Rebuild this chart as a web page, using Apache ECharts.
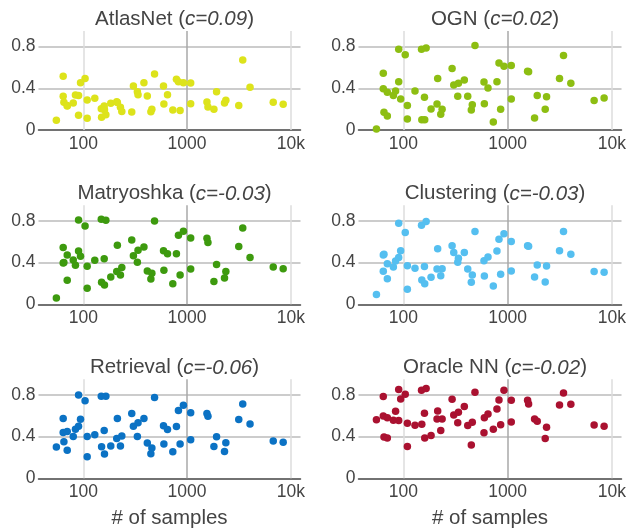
<!DOCTYPE html>
<html>
<head>
<meta charset="utf-8">
<script src="https://cdn.jsdelivr.net/npm/echarts@6/dist/echarts.min.js"></script>
<style>
html,body{margin:0;padding:0;background:#fff;}
#chart{width:629px;height:531px;}
</style>
</head>
<body>
<div id="chart"></div>
<script>
// ---- data ----
var samples = [55, 64, 64, 65, 70, 70, 80, 84, 90, 90, 94, 104, 109, 109, 129, 149, 150, 159, 160, 165, 184, 210, 213, 228, 235, 293, 304, 332, 337, 384, 414, 448, 458, 486, 593, 598, 648, 729, 790, 826, 857, 922, 1084, 1084, 1555, 1590, 1815, 1925, 2296, 2365, 3150, 3441, 4046, 6772, 8444];

var atlasnet = [0.093, 0.515, 0.323, 0.266, 0.23, 0.235, 0.259, 0.336, 0.33, 0.141, 0.454, 0.493, 0.288, 0.112, 0.304, 0.205, 0.122, 0.23, 0.195, 0.147, 0.256, 0.272, 0.265, 0.218, 0.178, 0.173, 0.422, 0.368, 0.339, 0.454, 0.326, 0.176, 0.2, 0.538, 0.422, 0.25, 0.339, 0.192, 0.486, 0.464, 0.186, 0.454, 0.451, 0.253, 0.269, 0.221, 0.2, 0.368, 0.259, 0.285, 0.234, 0.672, 0.41, 0.266, 0.246];
var ogn = [0.01, 0.544, 0.397, 0.17, 0.362, 0.134, 0.33, 0.374, 0.774, 0.464, 0.298, 0.723, 0.234, 0.106, 0.374, 0.774, 0.099, 0.314, 0.099, 0.787, 0.202, 0.25, 0.493, 0.15, 0.198, 0.589, 0.432, 0.323, 0.448, 0.48, 0.323, 0.192, 0.243, 0.81, 0.461, 0.253, 0.403, 0.077, 0.464, 0.643, 0.198, 0.611, 0.618, 0.298, 0.563, 0.56, 0.115, 0.33, 0.198, 0.32, 0.493, 0.714, 0.448, 0.282, 0.307];
var matryoshka = [0.061, 0.544, 0.397, 0.40, 0.474, 0.23, 0.426, 0.374, 0.81, 0.512, 0.461, 0.752, 0.365, 0.154, 0.422, 0.816, 0.211, 0.438, 0.186, 0.806, 0.262, 0.314, 0.566, 0.282, 0.352, 0.618, 0.467, 0.403, 0.518, 0.55, 0.32, 0.243, 0.298, 0.8, 0.515, 0.326, 0.486, 0.198, 0.486, 0.662, 0.282, 0.7, 0.637, 0.339, 0.634, 0.592, 0.218, 0.381, 0.253, 0.314, 0.554, 0.733, 0.448, 0.358, 0.342];
var clustering = [0.093, 0.474, 0.317, 0.48, 0.39, 0.246, 0.358, 0.416, 0.778, 0.448, 0.515, 0.688, 0.371, 0.144, 0.346, 0.758, 0.234, 0.362, 0.198, 0.794, 0.259, 0.339, 0.534, 0.275, 0.342, 0.563, 0.496, 0.403, 0.442, 0.496, 0.339, 0.211, 0.282, 0.698, 0.419, 0.272, 0.454, 0.176, 0.512, 0.624, 0.288, 0.678, 0.602, 0.32, 0.563, 0.557, 0.262, 0.378, 0.214, 0.368, 0.515, 0.698, 0.48, 0.314, 0.307];
var retrieval = [0.30, 0.574, 0.44, 0.35, 0.45, 0.27, 0.40, 0.47, 0.80, 0.5, 0.567, 0.743, 0.40, 0.207, 0.417, 0.787, 0.303, 0.459, 0.233, 0.787, 0.309, 0.382, 0.574, 0.309, 0.405, 0.621, 0.5, 0.40, 0.532, 0.574, 0.338, 0.236, 0.29, 0.775, 0.504, 0.328, 0.469, 0.255, 0.497, 0.65, 0.328, 0.70, 0.628, 0.37, 0.621, 0.596, 0.306, 0.398, 0.258, 0.341, 0.564, 0.714, 0.52, 0.357, 0.347];
var oracleNN = [0.563, 0.784, 0.598, 0.397, 0.582, 0.387, 0.557, 0.643, 0.851, 0.554, 0.762, 0.806, 0.528, 0.304, 0.509, 0.845, 0.518, 0.624, 0.387, 0.861, 0.41, 0.57, 0.646, 0.458, 0.57, 0.758, 0.608, 0.534, 0.634, 0.688, 0.506, 0.32, 0.538, 0.826, 0.438, 0.582, 0.618, 0.47, 0.666, 0.752, 0.515, 0.845, 0.749, 0.541, 0.749, 0.714, 0.57, 0.547, 0.381, 0.49, 0.704, 0.819, 0.71, 0.512, 0.499];

var panelNames = ['AtlasNet', 'OGN', 'Matryoshka', 'Clustering', 'Retrieval', 'Oracle NN'];
var panelCorr = ['0.09', '0.02', '-0.03', '-0.03', '-0.06', '-0.02'];
var panelValues = [atlasnet, ogn, matryoshka, clustering, retrieval, oracleNN];
var xTickValues = [100, 1000, 10000];
var xTickLabels = ['100', '1000', '10k'];
var yTickValues = [0, 0.4, 0.8];
var yTickLabels = ['0', '0.4', '0.8'];
var xAxisTitle = '# of samples';

// ---- style / layout ----
var colors = ['#dde31b', '#8dbe12', '#3d9a0e', '#55bff0', '#0b72c4', '#aa1130'];
var FONT = 'Liberation Sans, Arial, sans-serif';
var colLeft = [38.5, 358.5];
var colWidth = [262, 263];
var rowTop = [31, 205.3, 379.3];
var gridH = 99;

var grids = [], xAxes = [], yAxes = [], series = [], titles = [];
for (var i = 0; i < 6; i++) {
  var c = i % 2, r = Math.floor(i / 2);
  grids.push({left: colLeft[c], top: rowTop[r], width: colWidth[c], height: gridH, containLabel: false});
  xAxes.push({
    type: 'log', logBase: 10, gridIndex: i, min: 37, max: 12400,
    axisLine: {show: true, onZero: true, lineStyle: {color: '#444', width: 1.5}},
    axisTick: {show: false},
    splitLine: {show: false},
    axisLabel: {
      color: '#444', fontSize: 17.5, fontFamily: FONT, margin: 5,
      showMinLabel: false, showMaxLabel: false,
      formatter: function (v) {
        for (var k = 0; k < xTickValues.length; k++) {
          if (Math.abs(v - xTickValues[k]) / xTickValues[k] < 1e-6) return xTickLabels[k];
        }
        return '';
      }
    },
    name: r === 2 ? xAxisTitle : '',
    nameLocation: 'middle', nameGap: 30,
    nameTextStyle: {color: '#444', fontSize: 20.5, fontFamily: FONT}
  });
  yAxes.push({
    type: 'value', gridIndex: i, min: 0, max: 0.95, interval: 0.4,
    axisLine: {show: false}, axisTick: {show: false},
    splitLine: {show: true, showMinLine: false, showMaxLine: false, lineStyle: {color: '#bbb', width: 1.5}},
    axisLabel: {
      color: '#444', fontSize: 17.5, fontFamily: FONT, margin: 3, showMaxLabel: false,
      formatter: function (v) {
        for (var k = 0; k < yTickValues.length; k++) {
          if (Math.abs(v - yTickValues[k]) < 1e-6) return yTickLabels[k];
        }
        return '';
      }
    }
  });
  var pts = [];
  for (var j = 0; j < samples.length; j++) pts.push([samples[j], panelValues[i][j]]);
  series.push({
    type: 'scatter', xAxisIndex: i, yAxisIndex: i, data: pts,
    symbol: 'circle', symbolSize: 7.5, z: 3,
    itemStyle: {color: colors[i], opacity: 1},
    animation: false, silent: true,
    markLine: {
      silent: true, symbol: 'none', animation: false, z: 1,
      label: {show: false},
      data: [
        {xAxis: xTickValues[0], lineStyle: {color: '#dcdcdc', width: 1.5, type: 'solid'}},
        {xAxis: xTickValues[1], lineStyle: {color: '#a8a8a8', width: 1.5, type: 'solid'}},
        {xAxis: xTickValues[2], lineStyle: {color: '#dcdcdc', width: 1.5, type: 'solid'}}
      ]
    }
  });
  titles.push({
    text: '{n|' + panelNames[i] + ' (}{i|c=' + panelCorr[i] + '}{n|)}',
    left: colLeft[c] + colWidth[c] / 2, top: rowTop[r] - 27, textAlign: 'center',
    textStyle: {
      fontWeight: 'normal',
      rich: {
        n: {fontSize: 20.5, color: '#444', fontFamily: FONT, fontWeight: 'normal'},
        i: {fontSize: 20.5, color: '#444', fontFamily: FONT, fontStyle: 'italic', fontWeight: 'normal'}
      }
    }
  });
}

var chart = echarts.init(document.getElementById('chart'), null, {renderer: 'canvas'});
chart.setOption({
  backgroundColor: '#fff',
  animation: false,
  title: titles,
  grid: grids,
  xAxis: xAxes,
  yAxis: yAxes,
  series: series
});
</script>
</body>
</html>
